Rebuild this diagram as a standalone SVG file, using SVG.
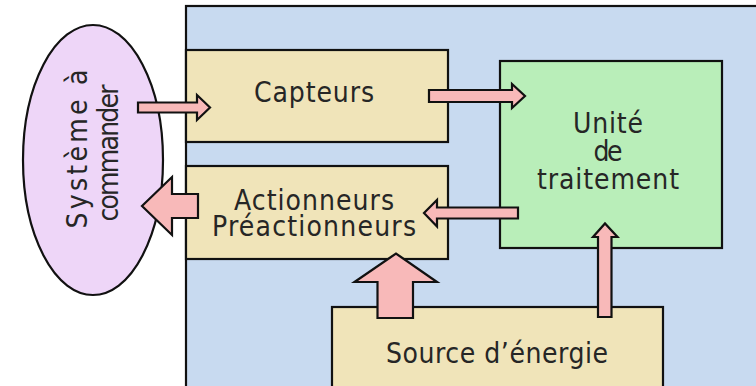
<svg xmlns="http://www.w3.org/2000/svg" width="756" height="386" viewBox="0 0 756 386">
<style>
.box{stroke:#111;stroke-width:2.2}
.beige{fill:#f0e4b9}
.arr{fill:#f8b9b9;stroke:#111;stroke-width:2.2;stroke-linejoin:miter}
.t{font-family:"Liberation Sans Narrow","DejaVu Sans Condensed","Liberation Sans",Arial,sans-serif;font-size:28px;fill:#262626;text-anchor:middle}
</style>
<rect width="756" height="386" fill="#ffffff"/>
<g id="systeme-de-commande">
<rect class="box" x="186" y="6" width="580" height="390" fill="#c8daf0"/>
</g>
<g id="systeme-a-commander">
<ellipse class="box" cx="93" cy="160" rx="70" ry="135" fill="#eed6f8"/>
<text class="t" transform="translate(87,149) rotate(-90)" textLength="159" lengthAdjust="spacing">Système à</text>
<text class="t" transform="translate(118,153) rotate(-90)" textLength="137" lengthAdjust="spacing">commander</text>
</g>
<g id="capteurs">
<rect class="box beige" x="186" y="50" width="262" height="92"/>
<text class="t" x="314" y="102" textLength="120" lengthAdjust="spacing">Capteurs</text>
</g>
<g id="actionneurs">
<rect class="box beige" x="186" y="166" width="262" height="93"/>
<text class="t" x="314" y="210" textLength="160" lengthAdjust="spacing">Actionneurs</text>
<text class="t" x="314" y="236" textLength="204" lengthAdjust="spacing">Préactionneurs</text>
</g>
<g id="unite-de-traitement">
<rect class="box" x="500" y="61" width="222" height="187" fill="#b9eeb9"/>
<text class="t" x="608" y="133" textLength="70" lengthAdjust="spacing">Unité</text>
<text class="t" x="608" y="161" textLength="29" lengthAdjust="spacing">de</text>
<text class="t" x="608" y="189" textLength="142" lengthAdjust="spacing">traitement</text>
</g>
<g id="source-energie">
<rect class="box beige" x="332" y="307" width="331" height="90"/>
<text class="t" x="497" y="363" textLength="222" lengthAdjust="spacing">Source d’énergie</text>
</g>
<g id="connectors">
<polygon class="arr" points="138,102.5 197,102.5 197,95 210,107.5 197,120 197,112.5 138,112.5"/>
<polygon class="arr" points="429,90 512,90 512,84 525,96 512,108 512,102 429,102"/>
<polygon class="arr" points="518,207.5 437,207.5 437,200 424,213 437,226.5 437,218.5 518,218.5"/>
<polygon class="arr" points="198,194 172,194 172,177 142,206 172,235 172,218 198,218"/>
<polygon class="arr" points="377.5,318 377.5,282 354.5,282 396,253.5 437,282 413,282 413,318"/>
<polygon class="arr" points="598,317 598,237 593,237 605,223.5 617.5,237 611.5,237 611.5,317"/>
</g>
</svg>
